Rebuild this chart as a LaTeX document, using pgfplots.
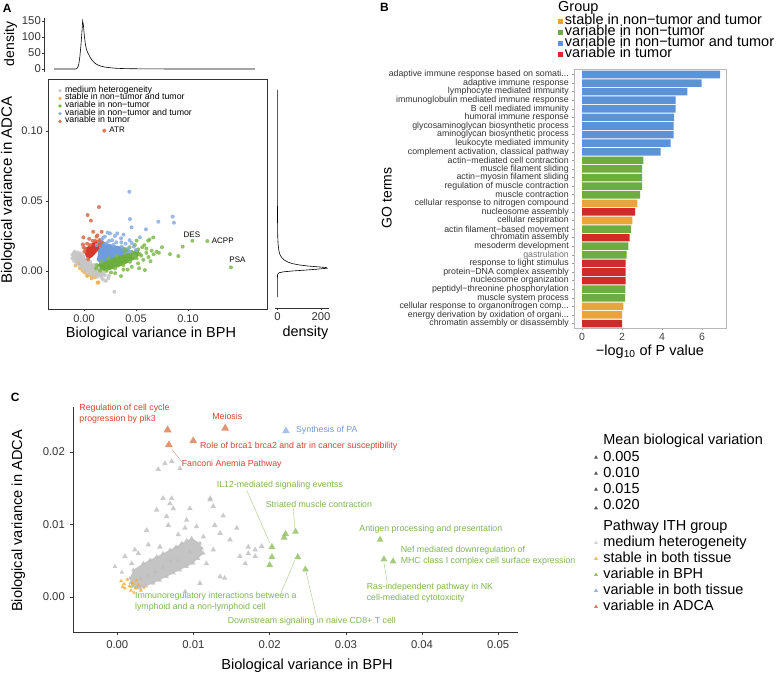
\documentclass[border=0pt]{standalone}
\usepackage{pgfplots}
\pgfplotsset{compat=1.18}
\usepackage{fontspec}
\setmainfont{Liberation Sans}

\definecolor{agray}{HTML}{C6C6C6}
\definecolor{aorange}{HTML}{F0B04E}
\definecolor{agreen}{HTML}{80B94F}
\definecolor{agreencore}{HTML}{6CAD3C}
\definecolor{ablue}{HTML}{86ABE0}
\definecolor{abluecore}{HTML}{6F9CDB}
\definecolor{ared}{HTML}{DB6A47}
\definecolor{aredcore}{HTML}{D4392B}
\definecolor{bblue}{HTML}{5B93D6}
\definecolor{bgreen}{HTML}{6CAC40}
\definecolor{borange}{HTML}{E9A43B}
\definecolor{bred}{HTML}{CE2B2A}
\definecolor{cgray}{HTML}{BDBDBD}
\definecolor{ccore}{HTML}{C4C4C4}
\definecolor{corange}{HTML}{F4A62A}
\definecolor{cadca}{HTML}{D97A4C}
\definecolor{cgreen}{HTML}{8CC05B}
\definecolor{cblue}{HTML}{8FB1E6}
\definecolor{tred}{HTML}{D2452F}
\definecolor{tgreen}{HTML}{7EB64F}
\definecolor{tblue}{HTML}{7399D8}
\definecolor{axgray}{HTML}{333333}

\newcommand{\fs}[1]{\fontsize{#1}{#1}\selectfont}
\newcommand{\dd}{.{}.{}.}

\pgfplotsset{
  every axis/.append style={scale only axis, /pgf/number format/assume math mode=true,
    tick align=outside, tick pos=left, major tick length=2pt,
    tick style={axgray, line width=0.5pt}, axis line style={axgray, line width=0.6pt}},
  dots/.style={forget plot, only marks, mark=*, mark size=2pt,
    mark options={draw opacity=0, fill=#1, fill opacity=0.85}},
  tris/.style n args={2}{forget plot, only marks, mark=triangle*, mark size=#2,
    mark options={draw opacity=0, fill=#1, fill opacity=0.8}},
  core/.style={forget plot, draw=none, fill=#1},
  ldot/.style={only marks, mark=*, mark size=1.8pt, mark options={draw opacity=0, fill=#1}},
  ltri/.style={only marks, mark=triangle*, mark size=2.3pt, mark options={draw opacity=0, fill=#1}},
}

\begin{document}
\begin{tikzpicture}
\useasboundingbox (0,0) rectangle (777pt,-674pt);

% ---------------- panel A, scatter ----------------
\begin{axis}[at={(48pt,-79pt)}, anchor=north west, width=219pt, height=230pt,
  xmin=-34.6, xmax=176, ymin=-27.1, ymax=137.1,
  xtick={0,50,100}, xticklabels={0.00,0.05,0.10},
  ytick={0,50,100}, yticklabels={0.00,0.05,0.10},
  ticklabel style={font=\fs{11}, text=axgray, inner sep=0pt},
  xticklabel style={anchor=base, yshift=-11pt},
  yticklabel style={anchor=east, xshift=-3pt},
  legend style={at={(axis description cs:0.0411,0.966)}, anchor=north west,
    draw=none, fill=none, inner sep=0pt, outer sep=0pt, font=\fs{8.8},
    nodes={inner sep=0pt, text height=5.5pt, text depth=2.17pt}, cells={anchor=west}},
  legend image code/.code={\path[draw=none, fill=none] (-3pt,-1pt) rectangle (5pt,1pt);
    \draw[#1] plot coordinates {(0pt,0pt)};},
  clip=false]
\addplot[dots=aorange] coordinates {(-5.5,5.5) (-3.8,1.9) (-1.3,0.2) (1,-1.2) (4.2,-2.9)
  (7.4,-3.6) (10.6,-4.5) (13.8,-8.1) (13.1,-8.3) (7.4,-5.2) (-8,4) (3,-3.5)};
\addplot[core=agray] coordinates {(-11.2,11.4) (-8.7,13.8) (-3.8,12.6) (-0.6,10.2) (5.8,6.7)
  (13.8,1.9) (20.2,-2.9) (17,-4.8) (9,-2.9) (2.6,-0.5) (-3.8,3.1) (-7,5.5) (-11.2,9.0)};
\addplot[dots=agray] coordinates {(-11.2,11.4) (-11.2,9) (-10,12.8) (-8.7,13.8) (-6,13.3)
  (-3.8,12.6) (-2,11.4) (-0.6,10.2) (2.5,8.5) (5.8,6.7) (9.5,4.3) (13.8,1.9) (17,-0.5)
  (20.2,-2.9) (17,-4.8) (13,-4) (9,-2.9) (5.5,-1.8) (2.6,-0.5) (-0.5,1.3) (-3.8,3.1)
  (-7,5.5) (-9.5,7.2) (23.4,-5.2) (21,-7) (29.2,-14.8) (19,-1) (15.5,-2.5) (-6,9) (-3,7)
  (0,5) (4,3) (8,1) (12,-1) (-9,10.5) (1,7.5) (6,2.5) (10,0.5) (24,-3.5) (18.5,-6.2)};
\addplot[core=agreencore] coordinates {(12.2,4.3) (17,6.6) (23.4,9.1) (31.4,10.7) (39.4,12.6)
  (45.8,13.8) (52.2,15.5) (53.8,12.1) (50.6,9.1) (44.2,6.6) (37.8,4.3) (29.8,1.9)
  (21.8,0.2) (15.4,0.2) (11.5,1.9)};
\addplot[dots=agreen] coordinates {(12.2,4.3) (17,6.6) (23.4,9.1) (31.4,10.7) (39.4,12.6)
  (45.8,13.8) (52.2,15.5) (53.8,12.1) (50.6,9.1) (44.2,6.6) (37.8,4.3) (29.8,1.9)
  (21.8,0.2) (15.4,0.2) (11.5,1.9) (35.6,-3.6) (58.6,0.7) (50.6,21.7) (61.7,21.7)
  (66.6,24) (69.9,13.8) (82.7,12.1) (90.7,10.7) (94.9,17.4) (104.2,21.6) (118.6,21.4)
  (141.3,2.6) (49,18.6) (63,22.5) (56,17) (60,13) (62,10) (57,8) (65,14.5) (46,3) (42,1)
  (26,-1) (52,5.5) (58,18.5) (44,17) (40,15.5) (75,17) (55,11) (48,11) (60,16) (67,12)
  (72,13) (53,2) (30,-1.5) (38,1) (64,7)};
\addplot[core=abluecore] coordinates {(12.2,18.6) (17,22.1) (21.8,19.8) (28.2,18.6)
  (36.3,17.4) (42.6,16.2) (44.2,13.8) (39.4,12.6) (33,10.7) (26.6,9.1) (20.2,6.6)
  (15.4,5.5) (12.2,7.9) (13.7,12.6)};
\addplot[dots=ablue] coordinates {(12.2,18.6) (17,22.1) (21.8,19.8) (28.2,18.6) (36.3,17.4)
  (42.6,16.2) (44.2,13.8) (43.6,56.6) (44.2,37.1) (45.8,31.2) (59.6,29.8) (71.5,35.2)
  (85.3,38.8) (86.5,34.5) (35.6,23.4) (29.8,25) (25,26.9) (22.8,27.4) (32,26.9) (53.8,24.1)
  (20,24.5) (44,22) (36,20.5) (27,22) (18,23.5) (40,19.5) (48,17.5) (50,15) (14.5,21)
  (24,21.5) (31,20.5) (46,20) (38,26)};
\addplot[core=aredcore] coordinates {(1,16.2) (5.8,18.6) (10.6,21.6) (14.7,22.1) (15.4,18.6)
  (13.8,15) (10.6,12.1) (7.4,9.8) (4.1,8.4) (1.9,10.2) (0.3,13.8)};
\addplot[dots=ared] coordinates {(1,16.2) (5.8,18.6) (10.6,21.6) (14.7,22.1) (15.4,18.6)
  (4.1,8.4) (0.3,13.8) (-0.6,24) (8.3,21.6) (8.9,28) (17,28) (3.5,40) (6.7,36) (14.4,45.7)
  (3,19.5) (-0.5,17) (12,24.5) (5,23) (16.5,20.5) (-1,19) (13,25.5) (19.5,100.2)};
\addlegendimage{ldot=agray}\addlegendentry{medium heterogeneity}
\addlegendimage{ldot=aorange}\addlegendentry{stable in non−tumor and tumor}
\addlegendimage{ldot=agreen}\addlegendentry{variable in non−tumor}
\addlegendimage{ldot=ablue}\addlegendentry{variable in non−tumor and tumor}
\addlegendimage{ldot=ared}\addlegendentry{variable in tumor}
\node[font=\fs{8}, anchor=west, inner sep=0pt] at (axis cs:24.3,100.7) {ATR};
\node[font=\fs{8}, inner sep=0pt] at (axis cs:103.8,26.2) {DES};
\node[font=\fs{8}, anchor=west, inner sep=0pt] at (axis cs:122.8,21.4) {ACPP};
\node[font=\fs{8}, anchor=west, inner sep=0pt] at (axis cs:139.7,8.4) {PSA};
\end{axis}

% ---------------- panel A, top density ----------------
\begin{axis}[at={(44pt,-18pt)}, anchor=north west, width=221pt, height=54pt,
  xmin=-38.46, xmax=174.04, ymin=-9.4, ymax=159.4,
  axis x line=none, axis y line*=left, ytick={0,50,100,150},
  ticklabel style={font=\fs{11.3}, text=axgray, inner sep=0pt},
  yticklabel style={anchor=east, xshift=-1pt}]
\addplot[black, line width=0.6pt] coordinates {(-28.8,0) (-8,0) (-7,1) (-6,5) (-5,15)
  (-4,38) (-3,72) (-2,115) (-1.3,150) (-0.6,138) (0.3,105) (1.3,78) (2.3,62) (3.3,53)
  (4.3,47) (5.5,39) (7,31) (9,23) (11,17) (13,13) (16,9) (20,6) (25,4) (30,2.5) (36,1.5)
  (45,0.8) (60,0.3) (80,0.1) (110,0) (164.4,0)};
\end{axis}

% ---------------- panel A, right density ----------------
\begin{axis}[at={(275pt,-82pt)}, anchor=north west, width=53.5pt, height=226pt,
  xmin=-11, xmax=234, ymin=-26.43, ymax=135,
  axis y line=none, axis x line*=bottom,
  xtick={0,200}, minor xtick={50,100,150}, minor tick length=1.5pt,
  ticklabel style={font=\fs{11.3}, text=axgray, inner sep=0pt},
  xticklabel style={anchor=base, yshift=-10.4pt}]
\addplot[black, line width=0.6pt] coordinates {(0,-18.6) (0,-5) (0.6,-3) (2.3,-2) (9,-1.2)
  (28,-0.6) (68,0) (125,0.6) (182,1.3) (228,2.0) (222,2.5) (182,3.0) (137,3.6) (97,4.4)
  (68,5.3) (46,6.5) (30,8) (18,10) (11,12) (7.4,14) (4.6,17) (2.9,20) (1.7,24) (0.9,30)
  (0.45,38) (0.1,50) (0,65) (0,129.3)};
\end{axis}

% ---------------- panel B ----------------
\begin{axis}[at={(574pt,-69pt)}, anchor=north west, width=152pt, height=259pt,
  xmin=-0.4, xmax=7.2, ymin=0.36, ymax=30.52, y dir=reverse,
  xbar, bar width=0.88,
  axis line style={black!28, line width=0.6pt}, tick style={black!40},
  xtick={0,2,4,6}, ytick={1,...,30},
  yticklabels={{adaptive immune response based on somati\dd},{adaptive immune response},
    {lymphocyte mediated immunity},{immunoglobulin mediated immune response},
    {B cell mediated immunity},{humoral immune response},
    {glycosaminoglycan biosynthetic process},{aminoglycan biosynthetic process},
    {leukocyte mediated immunity},{complement activation, classical pathway},
    {actin−mediated cell contraction},{muscle filament sliding},
    {actin−myosin filament sliding},{regulation of muscle contraction},
    {muscle contraction},{cellular response to nitrogen compound},
    {nucleosome assembly},{cellular respiration},{actin filament−based movement},
    {chromatin assembly},{mesoderm development},{\textcolor{black!55}{gastrulation}\hspace{3pt}},
    {response to light stimulus},{protein−DNA complex assembly},
    {nucleosome organization},{peptidyl−threonine phosphorylation},
    {muscle system process},{cellular response to organonitrogen comp\dd},
    {energy derivation by oxidation of organi\dd},{chromatin assembly or disassembly}},
  xticklabel style={font=\fs{10.5}, text=black!75, inner sep=0pt, anchor=base, yshift=-10.7pt},
  yticklabel style={font=\fs{8.8}, text=black!80, inner sep=0pt, anchor=east, xshift=-3pt},
  legend style={at={(axis description cs:-0.1053,1.2077)}, anchor=north west,
    draw=none, fill=none, inner sep=0pt, outer sep=0pt, font=\fs{14.5},
    nodes={inner sep=0pt, text height=9pt, text depth=2pt}, cells={anchor=west}},
  legend image code/.code={\path[draw=none, fill=none] (0pt,-1pt) rectangle (7pt,1pt);
    \fill[#1] (0pt,-3.5pt) rectangle (5pt,1.5pt);},
  clip=false]
\addplot[forget plot, draw=none, fill=borange, bar shift=0pt] coordinates {(2.77,16) (2.52,18) (2.07,28) (2.0,29)};
\addplot[forget plot, draw=none, fill=bgreen, bar shift=0pt] coordinates {(3.07,11) (3.0,12) (3.0,13) (3.0,14) (2.9,15)
  (2.45,19) (2.32,21) (2.23,22) (2.17,26) (2.15,27)};
\addplot[forget plot, draw=none, fill=bblue, bar shift=0pt] coordinates {(6.9,1) (5.98,2) (5.27,3) (4.68,4) (4.68,5)
  (4.6,6) (4.58,7) (4.58,8) (4.43,9) (3.93,10)};
\addplot[forget plot, draw=none, fill=bred, bar shift=0pt] coordinates {(2.65,17) (2.38,20) (2.18,23) (2.18,24) (2.18,25) (2.0,30)};
\addlegendimage{draw=none, fill=borange}\addlegendentry{stable in non−tumor and tumor}
\addlegendimage{draw=none, fill=bgreen}\addlegendentry{variable in non−tumor}
\addlegendimage{draw=none, fill=bblue}\addlegendentry{variable in non−tumor and tumor}
\addlegendimage{draw=none, fill=bred}\addlegendentry{variable in tumor}
\end{axis}

% ---------------- panel C ----------------
\begin{axis}[at={(73pt,-407pt)}, anchor=north west, width=445pt, height=225pt,
  xmin=-5.81, xmax=52.6, ymin=-4.83, ymax=26.2,
  axis lines*=left, major tick length=3pt,
  xtick={0,10,20,30,40,50}, xticklabels={0.00,0.01,0.02,0.03,0.04,0.05},
  ytick={0,10,20}, yticklabels={0.00,0.01,0.02},
  ticklabel style={font=\fs{11.3}, text=axgray, inner sep=0pt},
  xticklabel style={anchor=base, yshift=-13pt},
  yticklabel style={anchor=east, xshift=-5pt},
  legend style={at={(axis description cs:1.16854,0.88667)}, anchor=north west,
    draw=none, fill=none, inner sep=0pt, outer sep=0pt, font=\fs{14.5},
    nodes={inner sep=0pt, text height=12pt, text depth=4pt}, cells={anchor=west}},
  legend image code/.code={\path[draw=none, fill=none] (-3pt,-1pt) rectangle (7.3pt,1pt);
    \draw[#1] plot coordinates {(0pt,0pt)};},
  clip=false]
\addplot[core=ccore] coordinates {(1.67,2.58) (2.1,3.72) (3.41,4.65) (5.17,5.56) (6.92,6.48)
  (8.45,7.41) (9.76,8.1) (10.85,7.41) (11.29,6.03) (9.97,4.65) (8.23,3.72) (6.48,2.8)
  (4.72,1.89) (2.98,1.2) (1.89,1.42)};
\addplot[tris={cgray}{2.6pt}] coordinates {(1.67,2.58) (2.1,3.72) (3.41,4.65) (5.17,5.56)
  (6.92,6.48) (8.45,7.41) (9.76,8.1) (10.85,7.41) (11.29,6.03) (9.97,4.65) (8.23,3.72)
  (6.48,2.8) (4.72,1.89) (2.98,1.2) (1.89,1.42) (4.3,5.1) (6.0,6.0) (7.7,6.9) (9.1,7.8)
  (11.1,6.7) (10.6,5.3) (9.1,4.2) (7.4,3.3) (5.6,2.3) (3.8,1.5) (2.5,1.3) (1.8,2.0) (4,3)
  (6,4) (8,5) (9.5,6.2) (5,3.5) (7,5) (3,2.5) (-0.3,4.2) (0.6,3.4)};
\addplot[tris={cgray}{3.2pt}] coordinates {(5.38,17.6) (6.26,18.4) (7.14,18.7) (8.23,17.7)
  (7.14,13.6) (6.92,12.9) (7.35,12.2) (5.17,12.0) (9.54,12.2) (12.17,13.4) (13.9,11.2)
  (12.8,9.9) (9.1,10.6) (6.48,11.1) (6.69,9.9) (8.88,9.5) (10.4,9.7) (11.3,8.3) (13.5,8.8)
  (3.86,9.2) (8.0,8.6) (14.8,7.9) (16.1,5.6) (17.2,6.0) (18.1,6.5) (18.95,7.0) (16.8,4.6)
  (1.0,5.6) (2.76,6.0) (4.07,7.2) (5.6,6.9) (6.0,13.6) (12.2,13.6) (12.6,12.5) (15.7,9.5)
  (14.1,2.6) (8.9,0.7) (2.3,6.5) (1.9,4.6) (11.7,4.6) (12.6,6.5) (13.5,2.8) (10.85,1.9)
  (17.2,6.9) (18.1,5.6)};
\addplot[tris={corange}{2.2pt}] coordinates {(0.5,2.2) (0.9,1.8) (1.3,2.4) (1.6,1.5) (2.0,1.9)
  (2.4,1.2) (2.8,1.6) (3.1,0.9) (1.0,1.2) (1.8,0.9) (2.5,2.3) (0.7,1.4) (3.5,1.3) (2.2,0.6)};
\addplot[tris={cadca}{4.6pt}] coordinates {(6.61,23.03) (14.17,23.27) (9.97,21.52) (6.78,20.97)};
\addplot[tris={cblue}{4.4pt}] coordinates {(22.14,22.9)};
\addplot[tris={cgreen}{4pt}] coordinates {(20.3,6.9) (20.3,5.5) (20.0,4.4) (22.1,8.7) (23.4,9.0)
  (21.9,8.2) (23.7,5.5) (24.7,3.8) (34.5,7.9) (35.0,5.2) (36.2,4.9)};
\addplot[forget plot, tred!60, line width=0.4pt] coordinates {(7.14,20.41) (8.45,18.66)};
\addplot[forget plot, tgreen!70, line width=0.4pt] coordinates {(16.98,14.76) (20.04,7.41)};
\addplot[forget plot, tgreen!70, line width=0.4pt] coordinates {(23.1,12.23) (23.32,9.48)};
\addplot[forget plot, tgreen!70, line width=0.4pt] coordinates {(35.0,4.69) (35.43,2.07)};
\addplot[forget plot, tgreen!70, line width=0.4pt] coordinates {(21.48,0.51) (23.32,5.1)};
\addplot[forget plot, tgreen!70, line width=0.4pt] coordinates {(26.17,-2.8) (24.72,3.72)};
\begin{scope}[every node/.style={inner sep=0pt, font=\fontsize{8.8}{11.3}\selectfont}]
\node[anchor=west, align=left, text=tred] at (axis cs:-4.99,25.3) {Regulation of cell cycle\\progression by plk3};
\node[text=tred] at (axis cs:14.44,24.87) {Meiosis};
\node[anchor=west, text=tblue] at (axis cs:23.45,23.03) {Synthesis of PA};
\node[anchor=west, text=tred] at (axis cs:10.85,20.79) {Role of brca1 brca2 and atr in cancer susceptibility};
\node[anchor=west, text=tred] at (axis cs:8.45,18.3) {Fanconi Anemia Pathway};
\node[anchor=west, text=tgreen] at (axis cs:13.04,15.35) {IL12-mediated signaling eventss};
\node[anchor=west, text=tgreen] at (axis cs:19.48,12.79) {Striated muscle contraction};
\node[anchor=west, text=tgreen] at (axis cs:31.76,9.38) {Antigen processing and presentation};
\node[anchor=west, align=left, text=tgreen] at (axis cs:37.19,5.68) {Nef mediated downregulation of\\MHC class I complex cell surface expression};
\node[anchor=west, align=left, text=tgreen] at (axis cs:32.73,0.57) {Ras-independent pathway in NK\\cell-mediated cytotoxicity};
\node[anchor=west, align=left, text=tgreen] at (axis cs:2.32,-0.69) {Immunoregulatory interactions between a\\lymphoid and a non-lymphoid cell};
\node[anchor=west, text=tgreen] at (axis cs:14.49,-3.31) {Downstream signaling in naive CD8+ T cell};
\end{scope}
\addlegendimage{empty legend}\addlegendentry[text depth=5pt]{Mean biological variation}
\addlegendimage{ltri=black!65}\addlegendentry{0.005}
\addlegendimage{ltri=black!65}\addlegendentry{0.010}
\addlegendimage{ltri=black!65}\addlegendentry{0.015}
\addlegendimage{ltri=black!65}\addlegendentry[text depth=9.3pt]{0.020}
\addlegendimage{empty legend}\addlegendentry{Pathway ITH group}
\addlegendimage{ltri=black!18}\addlegendentry{medium heterogeneity}
\addlegendimage{ltri=corange!80}\addlegendentry{stable in both tissue}
\addlegendimage{ltri=cgreen}\addlegendentry{variable in BPH}
\addlegendimage{ltri=cblue}\addlegendentry{variable in both tissue}
\addlegendimage{ltri=cadca}\addlegendentry{variable in ADCA}
\end{axis}

% ---------------- titles and axis labels ----------------
\node[font=\bfseries\fs{12}, anchor=base west, inner sep=0pt] at (2.7pt,-13pt) {A};
\node[font=\bfseries\fs{12}, anchor=base west, inner sep=0pt] at (380pt,-11.7pt) {B};
\node[font=\bfseries\fs{12}, anchor=base west, inner sep=0pt] at (10.7pt,-401.7pt) {C};
\node[font=\fs{14}, rotate=90, anchor=base, inner sep=0pt] at (14pt,-44pt) {density};
\node[font=\fs{15}, rotate=90, anchor=base, inner sep=0pt] at (12pt,-190pt) {Biological variance in ADCA};
\node[font=\fs{14.5}, anchor=base, inner sep=0pt] at (151pt,-337.7pt) {Biological variance in BPH};
\node[font=\fs{14.4}, anchor=base, inner sep=0pt] at (305.5pt,-336pt) {density};
\node[font=\fs{14.5}, anchor=base west, inner sep=0pt] at (558pt,-11.5pt) {Group};
\node[font=\fs{14}, rotate=90, anchor=base, inner sep=0pt] at (391.5pt,-198pt) {GO terms};
\node[font=\fs{14.5}, anchor=base, inner sep=0pt] at (650pt,-355.5pt) {−log\textsubscript{10} of P value};
\node[font=\fs{14.6}, rotate=90, anchor=base, inner sep=0pt] at (22pt,-521pt) {Biological variance in ADCA};
\node[font=\fs{14.6}, anchor=base, inner sep=0pt] at (307pt,-669pt) {Biological variance in BPH};
\end{tikzpicture}
\end{document}
